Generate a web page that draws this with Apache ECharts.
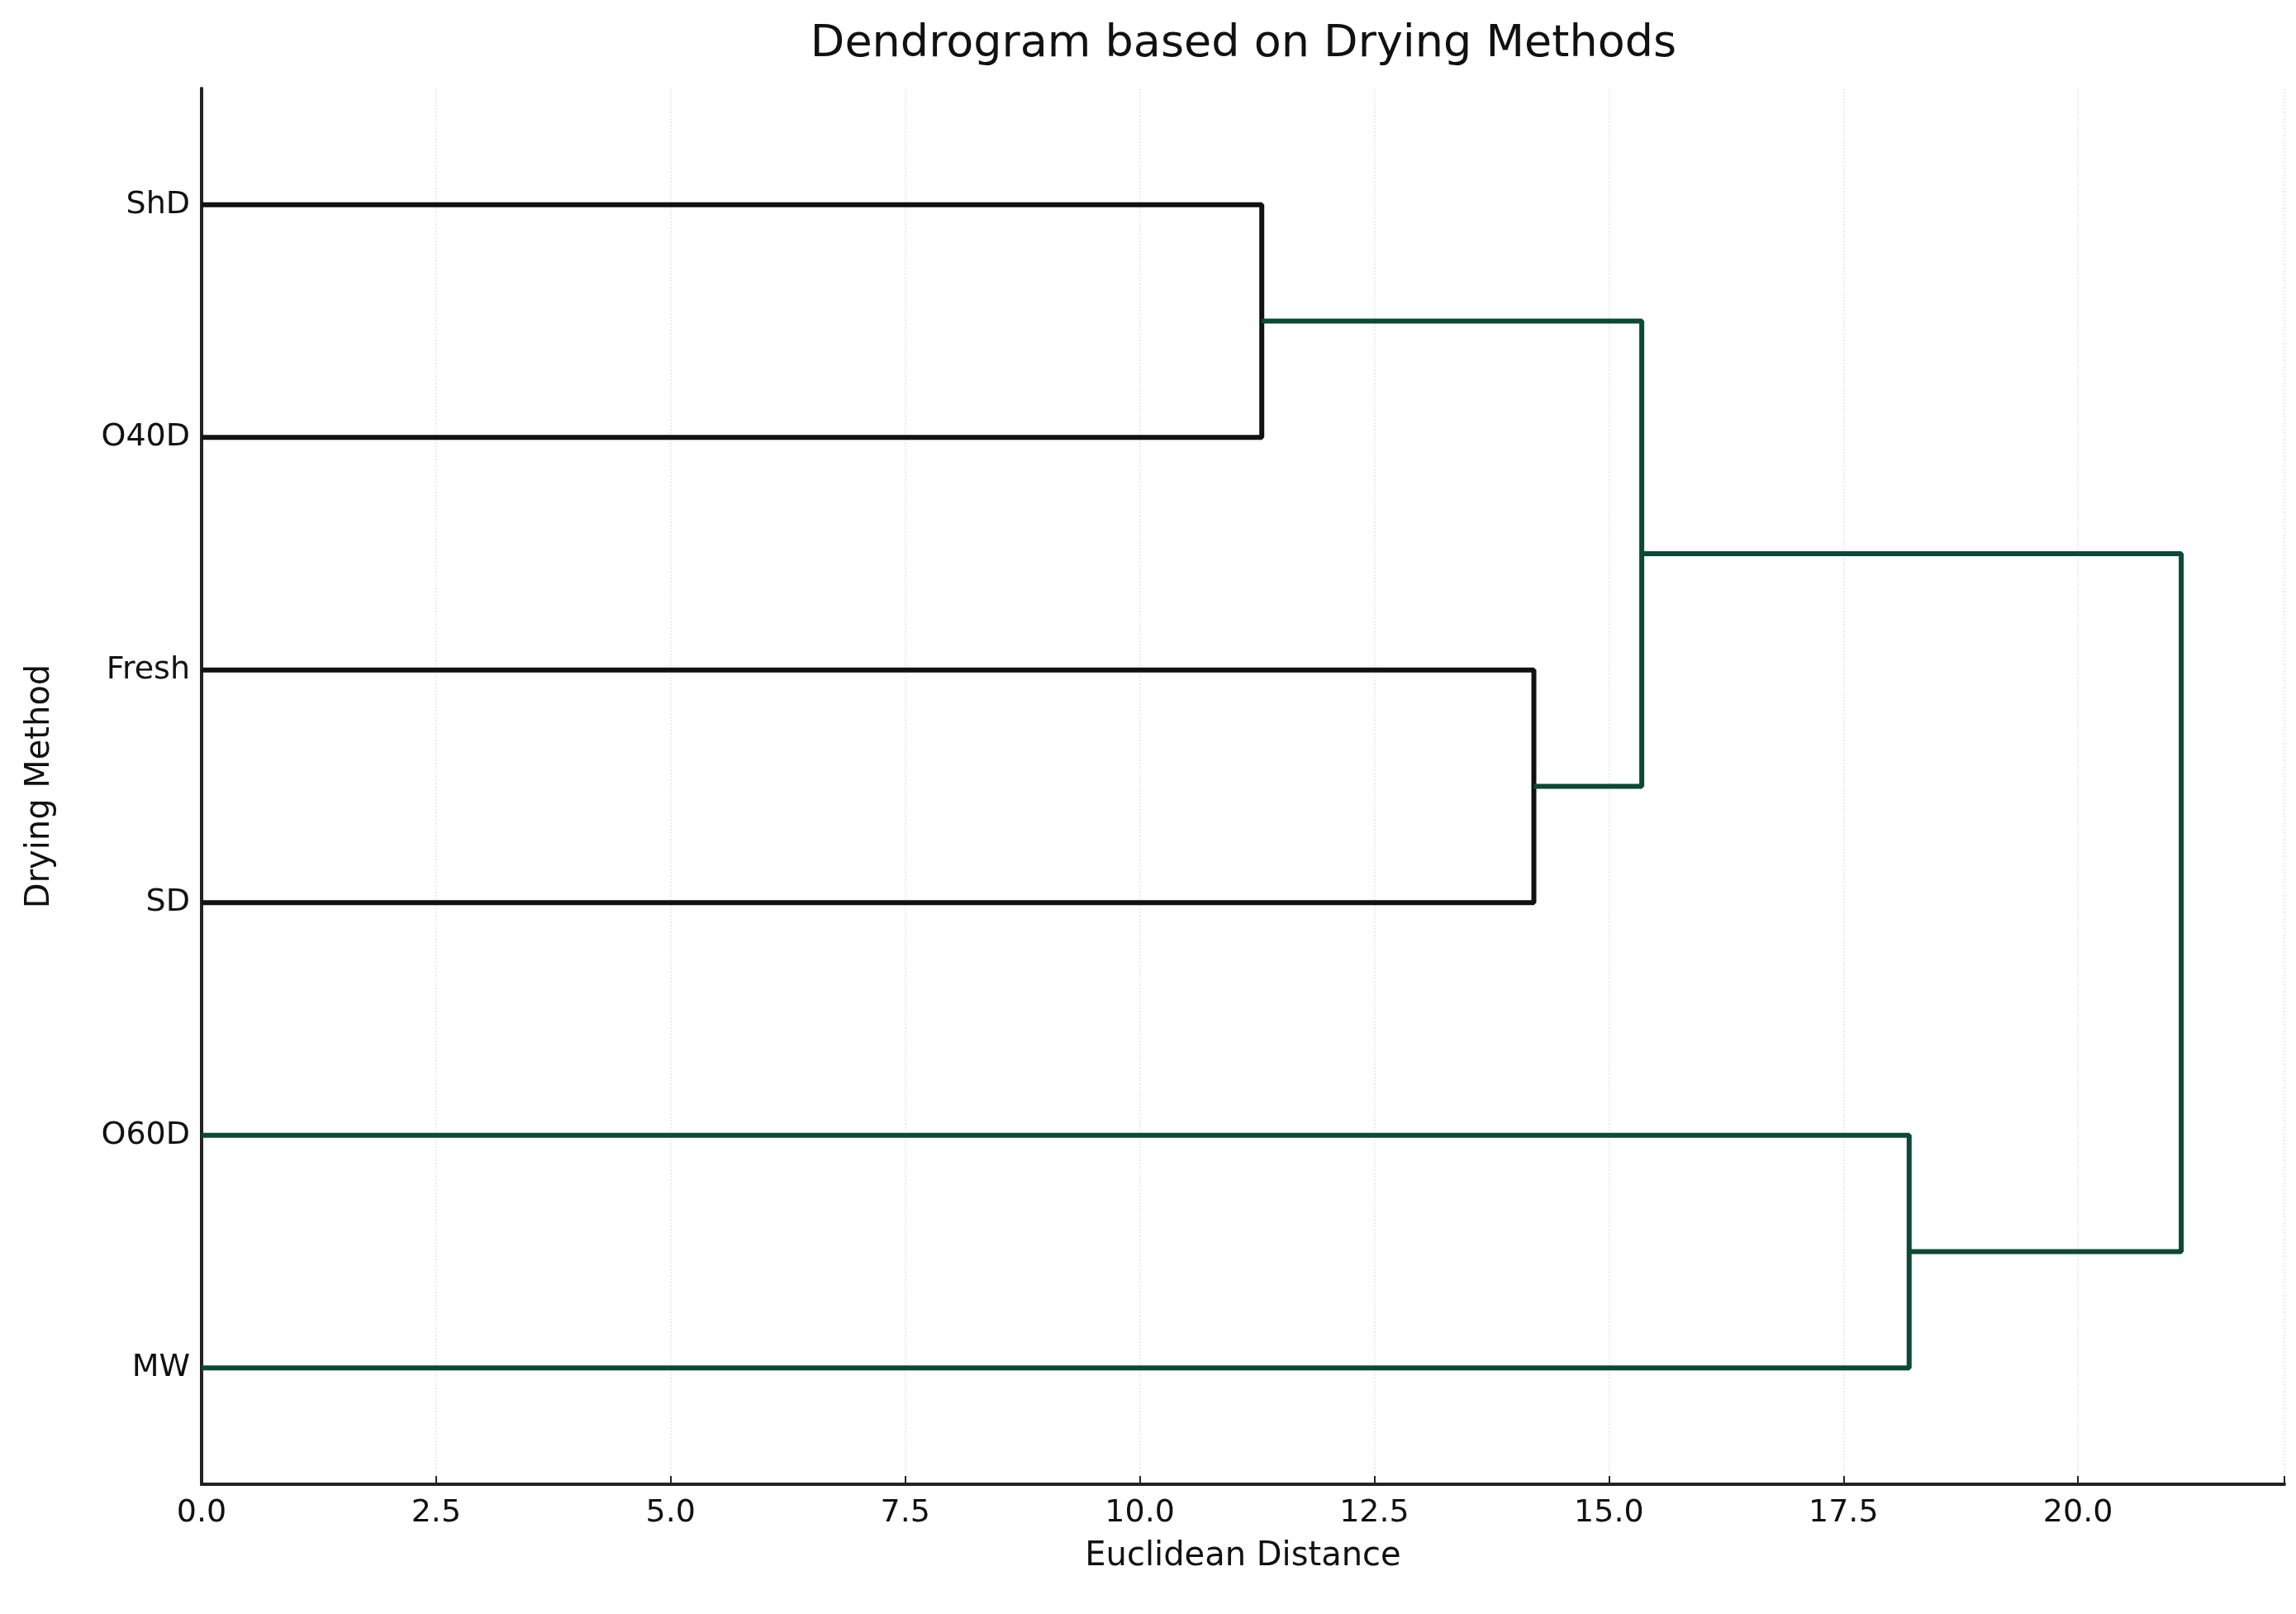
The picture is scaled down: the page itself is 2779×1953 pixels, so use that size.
<!DOCTYPE html>
<html><head><meta charset="utf-8">
<script src="https://cdn.jsdelivr.net/npm/echarts@6/dist/echarts.min.js"></script>
<style>html,body{margin:0;padding:0;background:#fff}#c{width:2779px;height:1953px}</style>
</head><body><div id="c"></div>
<script>
const leaves = ['ShD','O40D','Fresh','SD','O60D','MW'];
// merges: [childA, childB, height, color]; children are leaf indices or 'mN' for merge N
const merges = [
  [0, 1, 11.3, '#111111'],
  [2, 3, 14.2, '#111111'],
  [4, 5, 18.2, '#0b4a34'],
  ['m0', 'm1', 15.35, '#0b4a34'],
  ['m3', 'm2', 21.1, '#0b4a34']
];
const xTicks = [0, 2.5, 5, 7.5, 10, 12.5, 15, 17.5, 20];

const pos = [];
function node(c){ return typeof c === 'number' ? {x:0, y:c} : pos[+c.slice(1)]; }
const series = [];
merges.forEach((m, i) => {
  const a = node(m[0]), b = node(m[1]);
  pos[i] = {x: m[2], y: (a.y + b.y) / 2};
  series.push({
    type: 'line', symbol: 'none', animation: false,
    data: [[a.x, a.y], [m[2], a.y], [m[2], b.y], [b.x, b.y]],
    lineStyle: {color: m[3], width: 6}
  });
});

const chart = echarts.init(document.getElementById('c'));
chart.setOption({
  backgroundColor: '#fff',
  title: {text: 'Dendrogram based on Drying Methods', left: 1500, top: 22, textAlign: 'center',
    textStyle: {fontFamily: 'DejaVu Sans', fontWeight: 'normal', fontSize: 54, color: '#111'}},
  grid: {left: 244, right: 14, top: 107, bottom: 157},
  xAxis: {type: 'value', min: 0, max: 22.2, interval: 2.5,
    name: 'Euclidean Distance', nameLocation: 'middle', nameGap: 68,
    nameTextStyle: {fontFamily: 'DejaVu Sans', fontSize: 40, color: '#111'},
    axisLine: {onZero: false, lineStyle: {color: '#222', width: 4}},
    axisTick: {inside: true, length: 10, lineStyle: {color: '#222', width: 2}},
    axisLabel: {fontFamily: 'DejaVu Sans', fontSize: 38, color: '#111', margin: 16,
      customValues: xTicks, formatter: v => v.toFixed(1)},
    splitLine: {show: true, lineStyle: {color: '#ececec', type: 'dotted', width: 2}}
  },
  yAxis: {type: 'value', min: -0.5, max: 5.5, inverse: true,
    name: 'Drying Method', nameLocation: 'middle', nameGap: 175, nameRotate: 90,
    nameTextStyle: {fontFamily: 'DejaVu Sans', fontSize: 40, color: '#111'},
    axisLine: {show: true, onZero: false, lineStyle: {color: '#222', width: 4}},
    axisTick: {show: true, inside: true, length: 10, customValues: [0,1,2,3,4,5], lineStyle: {color: '#222', width: 2}},
    axisLabel: {fontFamily: 'DejaVu Sans', fontSize: 38, color: '#111', margin: 14,
      customValues: [0,1,2,3,4,5], formatter: v => leaves[Math.round(v)]},
    splitLine: {show: false}
  },
  series: series
});
</script></body></html>
